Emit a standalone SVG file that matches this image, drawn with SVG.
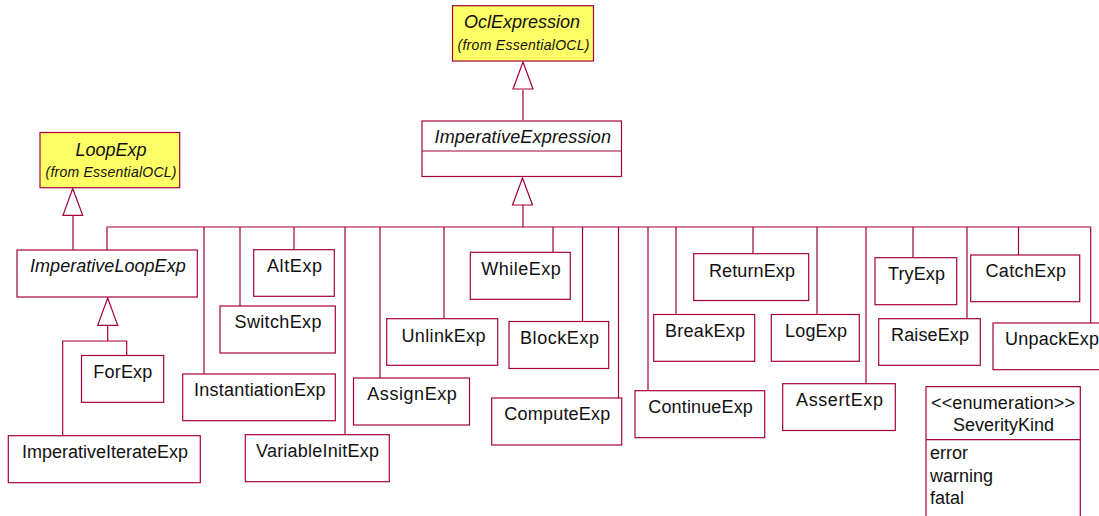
<svg xmlns="http://www.w3.org/2000/svg" width="1099" height="516" viewBox="0 0 1099 516">
<style>
.b{fill:#fff;stroke:#a5003f;stroke-width:1.2}
.y{fill:#ffff66;stroke:#a5003f;stroke-width:1.2}
.c{fill:none;stroke:#a5003f;stroke-width:1.2}
.h{fill:#fff;stroke:#a5003f;stroke-width:1.2}
text{font-family:"Liberation Sans",Arial,sans-serif;font-size:18px;fill:#111}
.i{font-style:italic}
.s{font-size:14px;font-style:italic}
</style>
<rect width="1099" height="516" fill="#fff"/>
<g id="connectors">
<path class="c" d="M523 120V90M73 250V215M523 227V205M107 250V227H1090.700V323M204 227V374M240 227V306M294 227V250M345 227V434.500M380 227V378M444 227V319M553 227V252M582.500 227V321M618.500 227V398M648 227V391M676 227V314.500M753 227V254M817 227V314.500M866 227V384M913 227V257.500M967 227V319M1018.500 227V255M107.700 326V341M62.700 435.500V341H126.700V355.500"/>
<path class="h" d="M523 62L533 89H513Z"/>
<path class="h" d="M522.500 178L532.500 205H512.500Z"/>
<path class="h" d="M72.700 188.500L82.700 215.300H63Z"/>
<path class="h" d="M107.700 298L117.700 325.300H97.700Z"/>
</g>
<g id="OclExpression"><rect class="y" x="452.500" y="5.700" width="141" height="55.300"/><text class="i" x="464" y="28">OclExpression</text><text class="s" x="457.500" y="49.500" textLength="132" lengthAdjust="spacing">(from EssentialOCL)</text></g>
<g id="LoopExp"><rect class="y" x="40" y="132.500" width="139.700" height="55.200"/><text class="i" x="75.500" y="155.500">LoopExp</text><text class="s" x="45.500" y="176.700" textLength="131" lengthAdjust="spacing">(from EssentialOCL)</text></g>
<g id="ImperativeExpression"><rect class="b" x="422" y="121" width="199.500" height="55.500"/><path class="c" d="M422 151H621.500"/><text class="i" x="434.500" y="143" textLength="176.500" lengthAdjust="spacing">ImperativeExpression</text></g>
<g id="ImperativeLoopExp"><rect class="b" x="17" y="250" width="180.300" height="47"/><text class="i" x="30" y="272.300" textLength="155.700" lengthAdjust="spacing">ImperativeLoopExp</text></g>
<g id="AltExp"><rect class="b" x="253.700" y="249.700" width="80.600" height="46.600"/><text x="267" y="272" textLength="55" lengthAdjust="spacing">AltExp</text></g>
<g id="SwitchExp"><rect class="b" x="220" y="306" width="115.300" height="47"/><text x="234.500" y="328" textLength="87" lengthAdjust="spacing">SwitchExp</text></g>
<g id="InstantiationExp"><rect class="b" x="182.700" y="374" width="152.600" height="46.700"/><text x="194" y="396" textLength="131.500" lengthAdjust="spacing">InstantiationExp</text></g>
<g id="ForExp"><rect class="b" x="81.500" y="355.500" width="82.200" height="46.800"/><text x="93.300" y="378.300" textLength="59" lengthAdjust="spacing">ForExp</text></g>
<g id="ImperativeIterateExp"><rect class="b" x="8.300" y="435.700" width="192" height="47"/><text x="22" y="458" textLength="166" lengthAdjust="spacing">ImperativeIterateExp</text></g>
<g id="VariableInitExp"><rect class="b" x="245.300" y="434.700" width="144" height="47"/><text x="256" y="457.300" textLength="123" lengthAdjust="spacing">VariableInitExp</text></g>
<g id="AssignExp"><rect class="b" x="353.500" y="378" width="116" height="47"/><text x="367.300" y="400" textLength="89.500" lengthAdjust="spacing">AssignExp</text></g>
<g id="UnlinkExp"><rect class="b" x="386.700" y="318.700" width="111" height="46.600"/><text x="401.500" y="341.500" textLength="84" lengthAdjust="spacing">UnlinkExp</text></g>
<g id="WhileExp"><rect class="b" x="470.300" y="252.300" width="100" height="47"/><text x="481.300" y="275" textLength="79.500" lengthAdjust="spacing">WhileExp</text></g>
<g id="BlockExp"><rect class="b" x="509" y="321.500" width="99.700" height="47"/><text x="520" y="344" textLength="79" lengthAdjust="spacing">BlockExp</text></g>
<g id="ComputeExp"><rect class="b" x="491.700" y="398" width="130" height="47"/><text x="504.300" y="420" textLength="106" lengthAdjust="spacing">ComputeExp</text></g>
<g id="BreakExp"><rect class="b" x="653.700" y="314.500" width="101" height="46.800"/><text x="665" y="337.300" textLength="80" lengthAdjust="spacing">BreakExp</text></g>
<g id="ContinueExp"><rect class="b" x="635" y="390.700" width="129.700" height="47"/><text x="648.300" y="413.300" textLength="104.500" lengthAdjust="spacing">ContinueExp</text></g>
<g id="ReturnExp"><rect class="b" x="693.700" y="253.700" width="115" height="46.800"/><text x="709" y="276.700" textLength="86" lengthAdjust="spacing">ReturnExp</text></g>
<g id="LogExp"><rect class="b" x="771.300" y="314.500" width="88" height="46.800"/><text x="785" y="337.300" textLength="62" lengthAdjust="spacing">LogExp</text></g>
<g id="AssertExp"><rect class="b" x="782.700" y="383.700" width="112.600" height="46.800"/><text x="796" y="406" textLength="87" lengthAdjust="spacing">AssertExp</text></g>
<g id="TryExp"><rect class="b" x="875" y="257.700" width="81.700" height="47"/><text x="888" y="280" textLength="57" lengthAdjust="spacing">TryExp</text></g>
<g id="RaiseExp"><rect class="b" x="878.700" y="318.700" width="101.600" height="46.600"/><text x="891" y="341" textLength="78" lengthAdjust="spacing">RaiseExp</text></g>
<g id="CatchExp"><rect class="b" x="970.700" y="255" width="109" height="46.700"/><text x="985.500" y="277.300" textLength="80.500" lengthAdjust="spacing">CatchExp</text></g>
<g id="UnpackExp"><rect class="b" x="993" y="323" width="112" height="46.700"/><text x="1005" y="345" textLength="94" lengthAdjust="spacing">UnpackExp</text></g>
<g id="SeverityKind"><path class="b" d="M926 518V386.700H1080.300V518"/><path class="c" d="M926 439.700H1080.300"/><text x="931" y="409" textLength="144" lengthAdjust="spacing">&lt;&lt;enumeration&gt;&gt;</text><text x="953" y="431">SeverityKind</text><text x="930" y="459">error</text><text x="930" y="481.500">warning</text><text x="930" y="504">fatal</text></g>
</svg>
